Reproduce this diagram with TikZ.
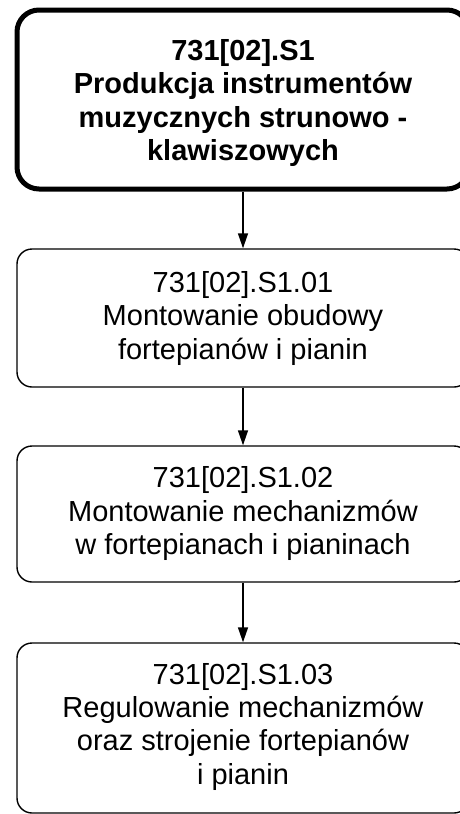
\documentclass[tikz,border=0pt]{standalone}
\usepackage{fontspec}
\setmainfont{Liberation Sans}
\usetikzlibrary{arrows.meta}
\begin{document}
\begin{tikzpicture}[x=1pt,y=-1pt,
  box/.style={draw=black, line width=1.4pt, rounded corners=15pt, minimum width=452pt, inner sep=0pt},
  topbox/.style={box, line width=5pt, rounded corners=22pt},
  txt/.style={inner sep=0pt, align=center, font=\fontsize{29}{33.3}\selectfont},
  toptxt/.style={txt, font=\fontsize{29}{33.3}\selectfont\bfseries},
  link/.style={draw=black, line width=1.4pt, -{Triangle[length=15pt,width=10pt]}}]
\useasboundingbox (0,0) rectangle (459,814);
\node[topbox, minimum height=179pt] (b0) at (243,99.5) {};
\node[box, minimum height=138pt] (b1) at (243,318) {};
\node[box, minimum height=136pt] (b2) at (243,514) {};
\node[box, minimum height=170pt] (b3) at (243,728) {};
\node[toptxt] (t0) at (243,103) {731[02].S1\\Produkcja instrumentów\\muzycznych strunowo -\\klawiszowych};
\node[txt] (t1) at (243,318.4) {731[02].S1.01\\Montowanie obudowy\\fortepianów i pianin};
\node[txt] (t2) at (243,513.7) {731[02].S1.02\\Montowanie mechanizmów\\w fortepianach i pianinach};
\node[txt] (t3) at (243,726.7) {731[02].S1.03\\Regulowanie mechanizmów\\oraz strojenie fortepianów\\i pianin};
\draw[link] (b0.south) -- (b1.north);
\draw[link] (b1.south) -- (b2.north);
\draw[link] (b2.south) -- (b3.north);
\end{tikzpicture}
\end{document}
